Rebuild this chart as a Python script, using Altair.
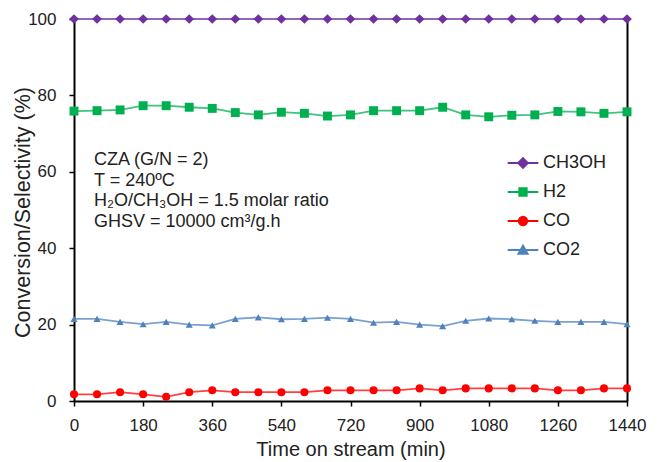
import altair as alt
import pandas as pd

# ---- data ----
time_min = [0, 60, 120, 180, 240, 300, 360, 420, 480, 540, 600, 660, 720,
            780, 840, 900, 960, 1020, 1080, 1140, 1200, 1260, 1320, 1380, 1440]
ch3oh = [100, 100, 100, 100, 100, 100, 100, 100, 100, 100, 100, 100, 100,
         100, 100, 100, 100, 100, 100, 100, 100, 100, 100, 100, 100]
h2 = [75.9, 76.0, 76.2, 77.3, 77.3, 76.9, 76.6, 75.5, 74.9, 75.6, 75.3, 74.6, 74.9,
      76.0, 76.0, 76.0, 76.9, 74.9, 74.4, 74.8, 74.9, 75.8, 75.7, 75.3, 75.7]
co = [1.75, 1.75, 2.3, 1.75, 1.1, 2.3, 2.8, 2.3, 2.3, 2.3, 2.3, 2.8, 2.8,
      2.8, 2.8, 3.3, 2.8, 3.3, 3.3, 3.3, 3.3, 2.8, 2.8, 3.3, 3.3]
co2 = [21.5, 21.5, 20.7, 20.1, 20.7, 20.0, 19.8, 21.5, 21.9, 21.4, 21.5, 21.8, 21.5,
       20.5, 20.7, 20.0, 19.6, 21.0, 21.6, 21.4, 21.0, 20.7, 20.7, 20.7, 20.1]

series_names = ["CH3OH", "H2", "CO", "CO2"]
series_colors = ["#7030A0", "#00B050", "#FF0000", "#4F81BD"]
series_shapes = ["diamond", "square", "circle", "triangle-up"]
series_sizes = [95, 50, 64, 70]
legend_shapes = [
    "M-1.7,0L1.7,0M0,-0.55L0.55,0L0,0.55L-0.55,0Z",
    "M-1.7,0L1.7,0M-0.42,-0.42L0.42,-0.42L0.42,0.42L-0.42,0.42Z",
    "M-1.7,0L1.7,0M-0.47,0A0.47,0.47,0,1,0,0.47,0A0.47,0.47,0,1,0,-0.47,0Z",
    "M-1.7,0L1.7,0M0,-0.5L0.52,0.42L-0.52,0.42Z",
]
x_ticks = [0, 180, 360, 540, 720, 900, 1080, 1260, 1440]
y_ticks = [0, 20, 40, 60, 80, 100]
annotation_lines = ["CZA (G/N = 2)", "T = 240ºC",
                    "H₂O/CH₃OH = 1.5 molar ratio", "GHSV = 10000 cm³/g.h"]

FONT = "Liberation Sans"
NARROW = "Liberation Sans Narrow, Liberation Sans"

rows = []
for name, vals in zip(series_names, [ch3oh, h2, co, co2]):
    for t, v in zip(time_min, vals):
        rows.append({"series": name, "time": t, "value": v})
df = pd.DataFrame(rows)

x_axis = alt.Axis(values=x_ticks, format="d", title="Time on stream (min)", grid=False,
                  domainColor="black", domainWidth=2, tickColor="black",
                  tickWidth=1.5, tickSize=5, labelFont=NARROW, labelFontSize=17,
                  labelColor="#222222", labelPadding=11, titleFont=FONT,
                  titleFontSize=20, titleFontWeight="normal", titleColor="#222222",
                  titleY=54, titleBaseline="alphabetic", labelFlush=False)
x_enc = alt.X("time:Q", scale=alt.Scale(domain=[0, 1440], nice=False, zero=False),
              axis=x_axis)

y_axis = alt.Axis(values=y_ticks, format="d", title="Conversion/Selectivity (%)", grid=False,
                  domainColor="black", domainWidth=2, tickColor="black",
                  tickWidth=1.5, tickSize=5, labelFont=NARROW, labelFontSize=17,
                  labelColor="#222222", labelPadding=13, titleFont=FONT,
                  titleFontSize=21.5, titleFontWeight="normal", titleColor="#222222",
                  titleX=-51, titleY=193, titleAngle=-90, titleBaseline="middle",
                  titleAlign="center", labelFlush=False)
y_scale = alt.Scale(domain=[0, 100], nice=False)
y_enc = alt.Y("value:Q", scale=y_scale, axis=y_axis)
y_noaxis = alt.Y("value:Q", scale=y_scale, axis=None)

color_enc = alt.Color("series:N", scale=alt.Scale(domain=series_names, range=series_colors),
                      legend=None)

base = alt.Chart(df)

lines = base.mark_line(strokeWidth=1.8, opacity=0.75).encode(
    x=x_enc, y=y_enc, color=color_enc, detail="series:N",
    order="time:Q")

points = base.mark_point(filled=True, opacity=1).encode(
    x=x_enc, y=y_noaxis, color=color_enc,
    shape=alt.Shape("series:N", scale=alt.Scale(domain=series_names, range=series_shapes),
                    legend=None),
    size=alt.Size("series:N", scale=alt.Scale(domain=series_names, range=series_sizes),
                  legend=None))

legend_props = dict(title=None, orient="none", legendX=439, legendY=134,
                    symbolSize=324, symbolStrokeWidth=1.8, symbolOpacity=1,
                    labelFont=FONT, labelFontSize=18, labelColor="#222222",
                    labelOffset=10, rowPadding=10, padding=0)

legend_layer = base.mark_point(filled=True, opacity=0).encode(
    x=x_enc,
    y=alt.Y("value:Q", scale=y_scale,
            axis=alt.Axis(orient="right", labels=False, ticks=False, grid=False,
                          title=None, domainColor="black", domainWidth=2)),
    fill=alt.Fill("series:N", scale=alt.Scale(domain=series_names, range=series_colors),
                  legend=alt.Legend(**legend_props)),
    stroke=alt.Stroke("series:N", scale=alt.Scale(domain=series_names, range=series_colors),
                      legend=alt.Legend(**legend_props)),
    shape=alt.Shape("series:N", scale=alt.Scale(domain=series_names, range=legend_shapes),
                    legend=alt.Legend(**legend_props)),
)

annot = alt.Chart(pd.DataFrame({"k": [0]})).mark_text(
    text=annotation_lines, align="left", baseline="top", font=FONT, fontSize=18,
    lineHeight=20.5, color="#222222").encode(x=alt.value(20), y=alt.value(132))

chart = alt.layer(lines, points, legend_layer, annot).resolve_scale(
    y="independent", shape="independent", fill="independent", stroke="independent"
).properties(
    width=553, height=382,
    autosize=alt.AutoSizeParams(type="none"),
    padding={"left": 66, "top": 11, "right": 20, "bottom": 62},
).configure_view(stroke=None)

chart.save("out.html", embed_options={"renderer": "svg", "actions": False})
